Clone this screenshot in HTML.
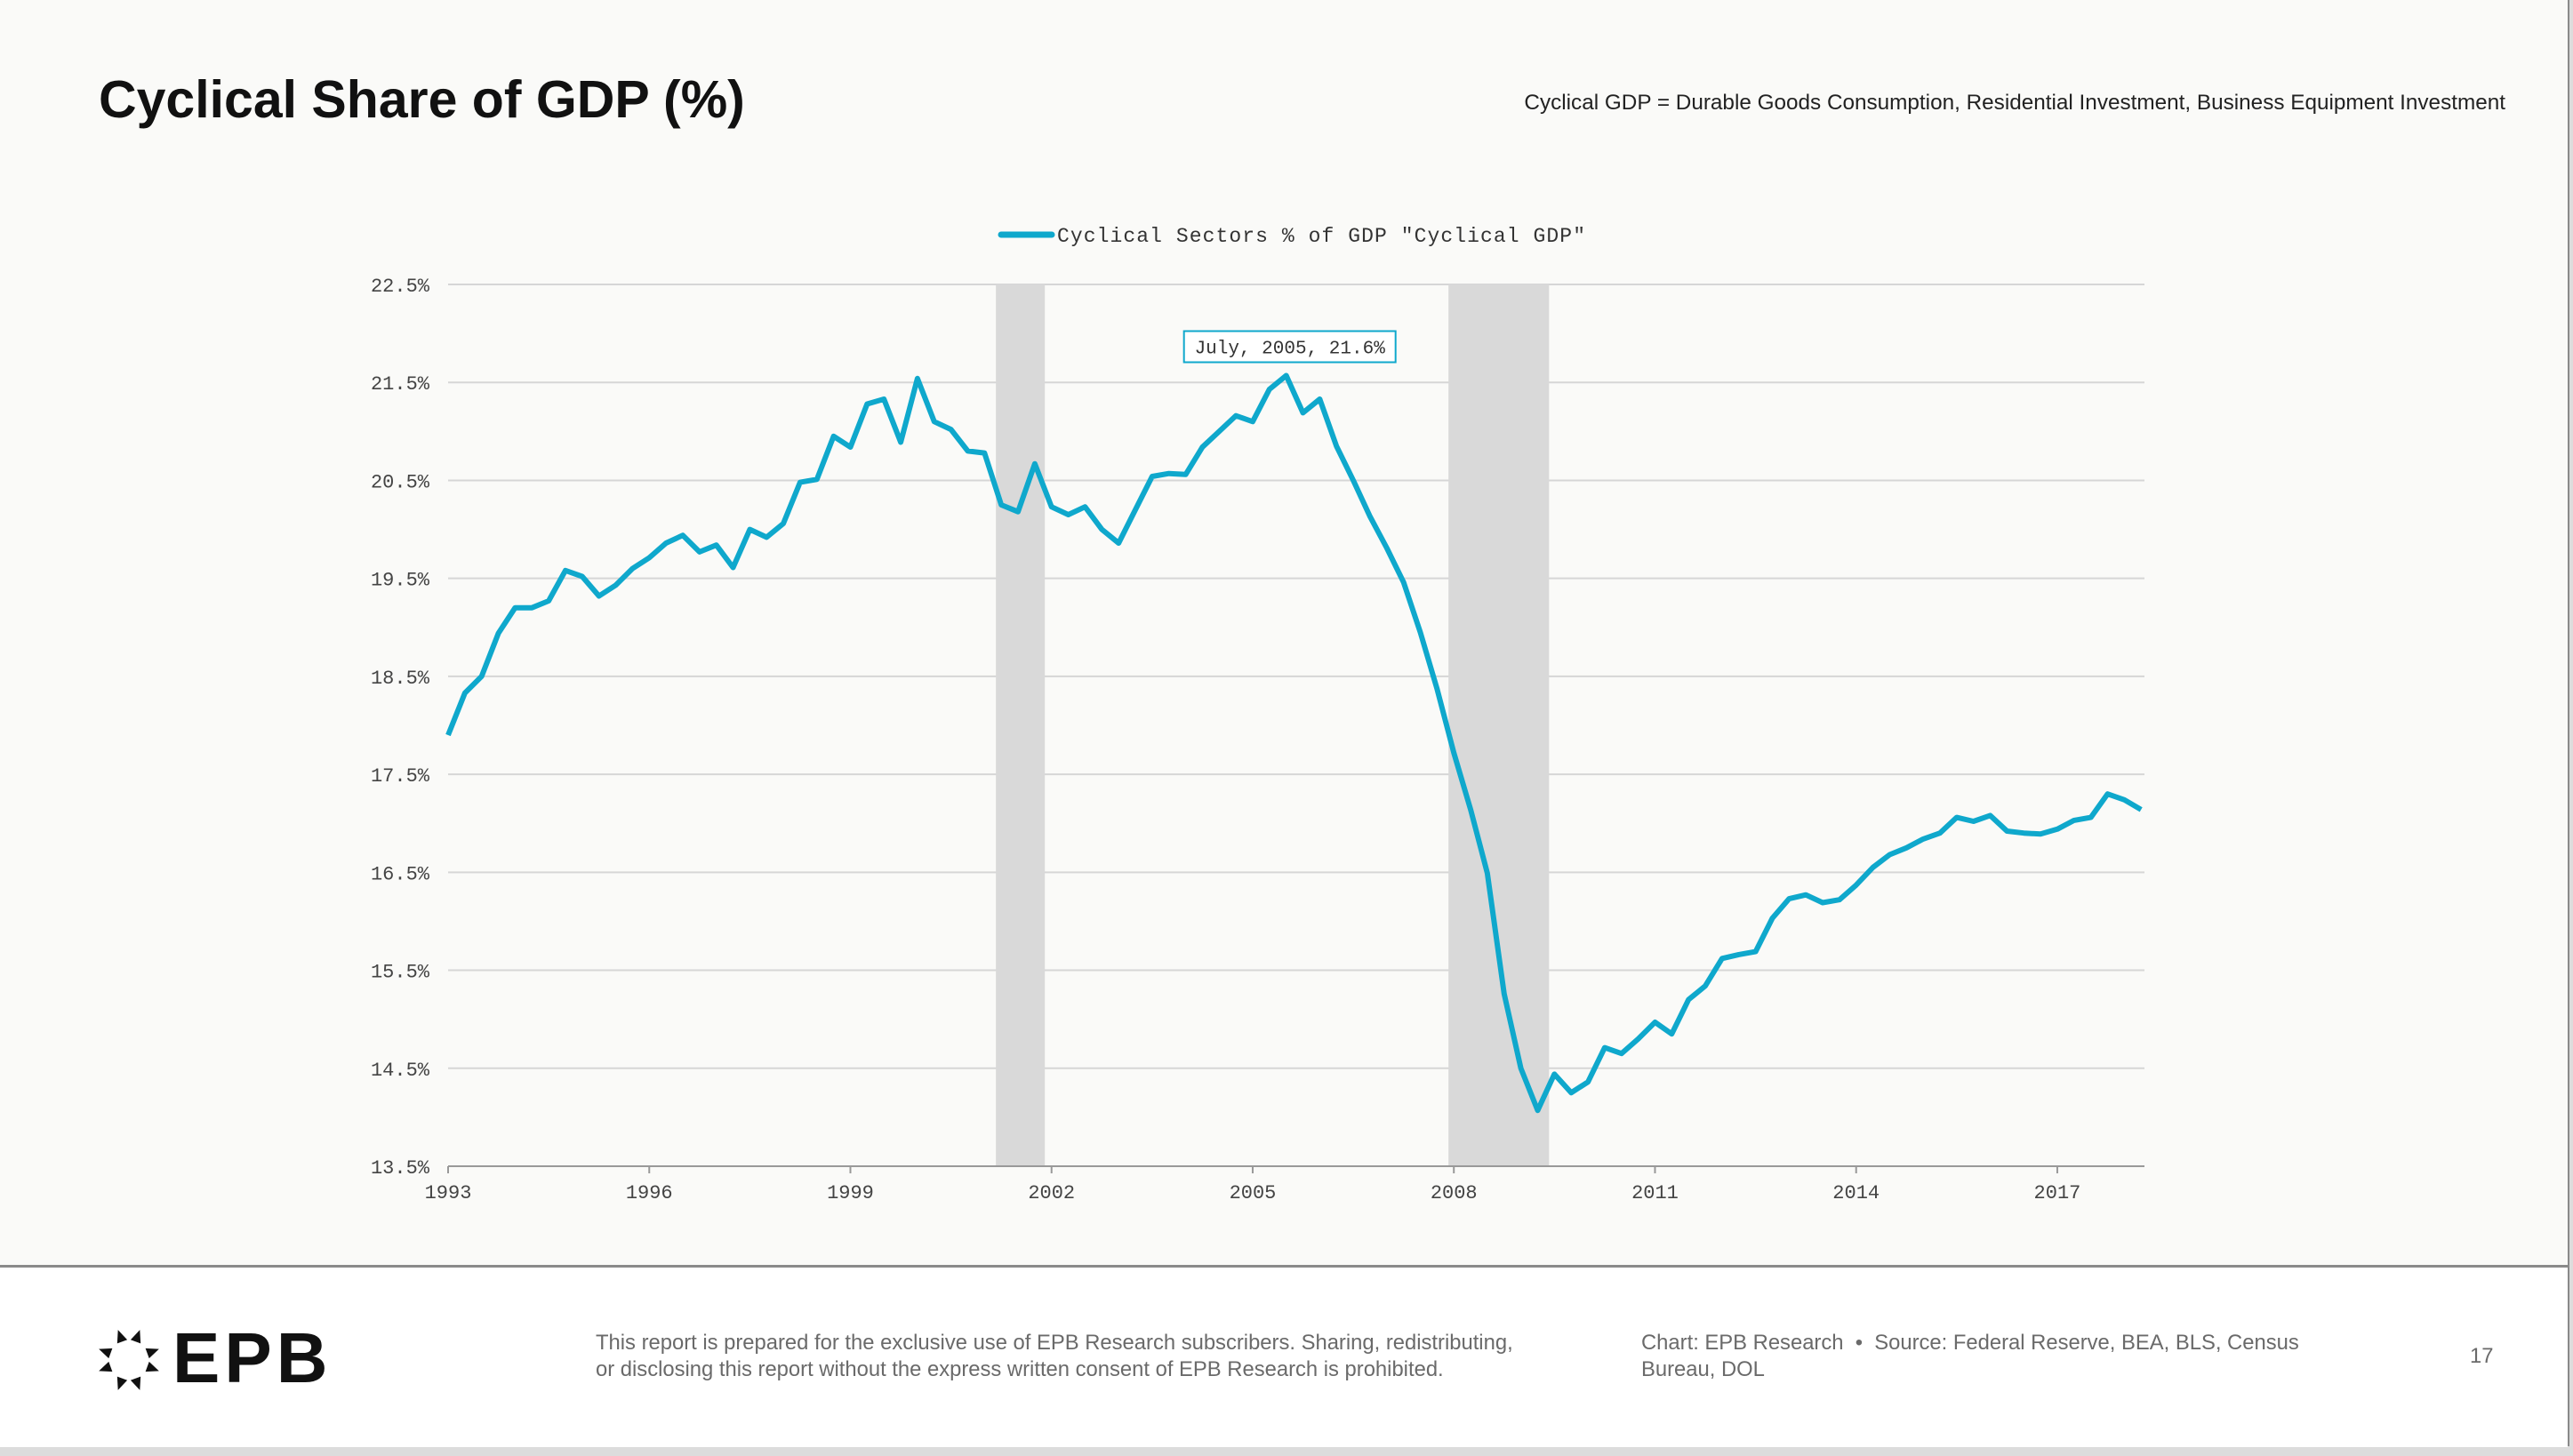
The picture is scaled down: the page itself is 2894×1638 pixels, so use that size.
<!DOCTYPE html>
<html><head><meta charset="utf-8">
<style>
html,body{margin:0;padding:0;}
body{width:2894px;height:1638px;background:#dcdcdc;position:relative;overflow:hidden;font-family:"Liberation Sans",sans-serif;}
#page{position:absolute;left:0;top:0;width:2888px;height:1625px;background:#fafaf8;border-right:2px solid #8a8a8a;border-bottom:2px solid #8a8a8a;}
#footer{position:absolute;left:0;top:1423px;width:2888px;height:202px;background:#fff;border-top:3px solid #8a8a8a;}
.ft{position:absolute;color:#6a6a6a;font-size:23.8px;line-height:30px;}
</style></head>
<body>
<div id="page">
  <div style="position:absolute;left:111px;top:78px;font-size:59px;font-weight:bold;color:#111;">Cyclical Share of GDP (%)</div>
  <div style="position:absolute;right:70px;top:102px;font-size:24.3px;color:#222;">Cyclical GDP = Durable Goods Consumption, Residential Investment, Business Equipment Investment</div>
  <svg id="chart" width="2888" height="1420" style="position:absolute;left:0;top:0;"></svg>
</div>
<div id="footer">
  <svg width="80" height="80" style="position:absolute;left:105px;top:64px;" viewBox="-40 -40 80 80">
    <g fill="#111">
      <polygon points="0,-36 6,-22 -6,-22" transform="rotate(20)"/>
      <polygon points="0,-36 6,-22 -6,-22" transform="rotate(-20)"/>
      <polygon points="0,-36 6,-22 -6,-22" transform="rotate(70)"/>
      <polygon points="0,-36 6,-22 -6,-22" transform="rotate(-70)"/>
      <polygon points="0,-36 6,-22 -6,-22" transform="rotate(110)"/>
      <polygon points="0,-36 6,-22 -6,-22" transform="rotate(-110)"/>
      <polygon points="0,-36 6,-22 -6,-22" transform="rotate(160)"/>
      <polygon points="0,-36 6,-22 -6,-22" transform="rotate(-160)"/>
    </g>
  </svg>
  <div style="position:absolute;left:194px;top:56px;font-size:80px;font-weight:bold;color:#111;letter-spacing:5px;">EPB</div>
  <div class="ft" style="left:670px;top:70px;">This report is prepared for the exclusive use of EPB Research subscribers. Sharing, redistributing,<br>or disclosing this report without the express written consent of EPB Research is prohibited.</div>
  <div class="ft" style="left:1846px;top:70px;">Chart: EPB Research &nbsp;•&nbsp; Source: Federal Reserve, BEA, BLS, Census<br>Bureau, DOL</div>
  <div class="ft" style="left:2778px;top:85px;">17</div>
</div>
<script>
const startYear = 1993;
const values = [17.9,18.33,18.5,18.94,19.2,19.2,19.27,19.58,19.52,19.32,19.43,19.6,19.71,19.86,19.94,19.77,19.84,19.61,20.0,19.92,20.06,20.48,20.51,20.95,20.84,21.28,21.33,20.89,21.54,21.1,21.02,20.8,20.78,20.25,20.18,20.67,20.23,20.15,20.23,20.0,19.86,20.2,20.54,20.57,20.56,20.84,21.0,21.16,21.1,21.43,21.57,21.19,21.33,20.85,20.5,20.13,19.81,19.46,18.95,18.37,17.72,17.14,16.49,15.26,14.5,14.07,14.44,14.25,14.36,14.71,14.65,14.8,14.97,14.85,15.2,15.34,15.62,15.66,15.69,16.03,16.23,16.27,16.19,16.22,16.37,16.55,16.68,16.75,16.84,16.9,17.06,17.02,17.08,16.92,16.9,16.89,16.94,17.03,17.06,17.3,17.24,17.14];
const yTicks = [13.5,14.5,15.5,16.5,17.5,18.5,19.5,20.5,21.5,22.5];
const xTicks = [1993,1996,1999,2002,2005,2008,2011,2014,2017];
const recStart = [2001.17, 2007.92];
const recEnd = [2001.9, 2009.42];
const tipIndex = 50;
const tipText = "July, 2005, 21.6%";

const NS="http://www.w3.org/2000/svg";
const svg=document.getElementById('chart');
const X0=504,X1=2412,Y0=320,Y1=1312;
const xMin=1993,xMax=2018.3,yMin=13.5,yMax=22.5;
const xs=t=>X0+(t-xMin)/(xMax-xMin)*(X1-X0);
const ys=v=>Y1-(v-yMin)/(yMax-yMin)*(Y1-Y0);
function mk(tag,attrs,parent){const e=document.createElementNS(NS,tag);for(const k in attrs)e.setAttribute(k,attrs[k]);(parent||svg).appendChild(e);return e;}

yTicks.forEach(v=>{
  const l=mk('line',{x1:X0,x2:X1,y1:ys(v),y2:ys(v),stroke:'#d6d6d6','stroke-width':2});
  
  
  const t=mk('text',{x:483,y:ys(v)+8,'text-anchor':'end','font-family':'Liberation Mono, monospace','font-size':22,fill:'#444'});
  t.textContent=v.toFixed(1)+'%';
  
  
});
recStart.forEach((s,i)=>{
  const r=mk('rect',{x:xs(s),y:Y0,width:xs(recEnd[i])-xs(s),height:Y1-Y0,fill:'#d9d9d9'});
  
  
});
const ax=mk('line',{x1:X0,x2:X1,y1:Y1,y2:Y1,stroke:'#999','stroke-width':2});


xTicks.forEach(yr=>{
  const tk=mk('line',{x1:xs(yr),x2:xs(yr),y1:Y1,y2:Y1+8,stroke:'#999','stroke-width':2});
  
  
  const t=mk('text',{x:xs(yr),y:Y1+36,'text-anchor':'middle','font-family':'Liberation Mono, monospace','font-size':22,fill:'#444'});
  t.textContent=yr;
  
  
});
const pts=values.map((v,i)=>xs(startYear+i/4).toFixed(1)+','+ys(v).toFixed(1)).join(' ');
const pl=mk('polyline',{points:pts,fill:'none',stroke:'#0fa8cc','stroke-width':6,'stroke-linejoin':'round'});


const tx=xs(startYear+tipIndex/4), ty=ys(values[tipIndex]);
const tb=mk('rect',{x:tx-115,y:ty-50,width:238,height:35,fill:'#fff',stroke:'#0fa8cc','stroke-width':2});


const tt=mk('text',{x:tx+4,y:ty-25,'text-anchor':'middle','font-family':'Liberation Mono, monospace','font-size':21,fill:'#333'});
tt.textContent=tipText;


const ll=mk('line',{x1:1126,x2:1183,y1:264,y2:264,stroke:'#0fa8cc','stroke-width':7,'stroke-linecap':'round'});


const lt=mk('text',{x:1189,y:272,'font-family':'Liberation Mono, monospace','font-size':23,fill:'#333',textLength:594});
lt.textContent='Cyclical Sectors % of GDP "Cyclical GDP"';


</script>
</body></html>
